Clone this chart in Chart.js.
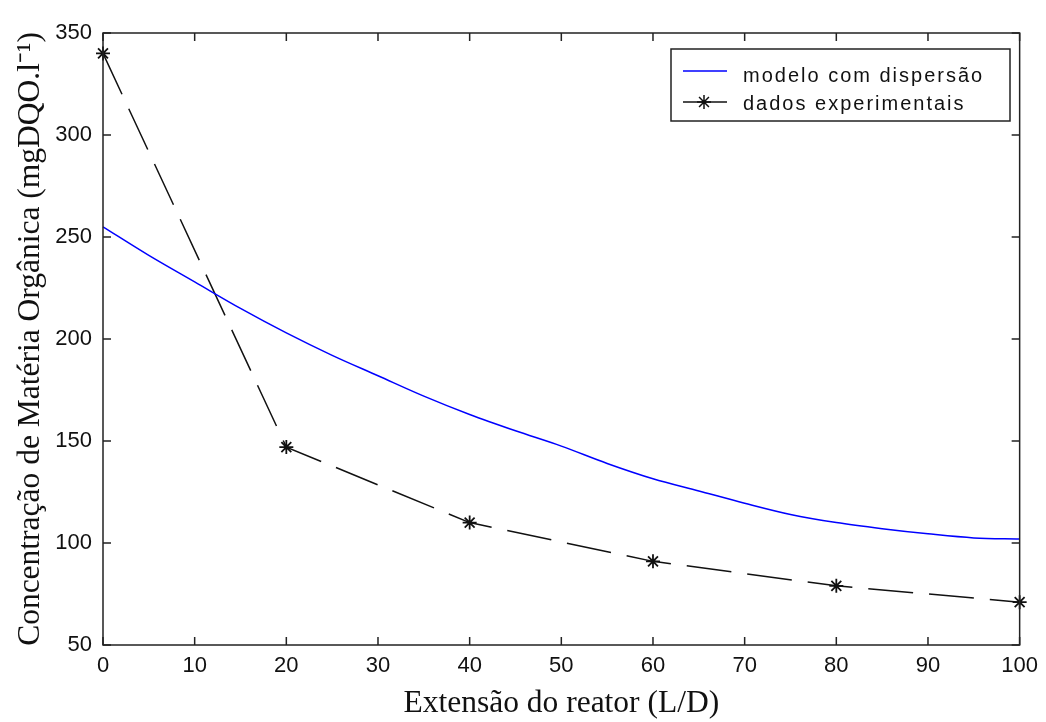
<!DOCTYPE html>
<html>
<head>
<meta charset="utf-8">
<script src="https://cdn.jsdelivr.net/npm/chart.js@4"></script>
<style>
  body { margin: 0; background: #fff; }
  canvas { display: block; }
</style>
</head>
<body>
<canvas id="myChart" width="1046" height="722"></canvas>
<script>
// modelo com dispersao (curva azul)
const xModel = [0, 5, 10, 15, 20, 25, 30, 35, 40, 45, 50, 55, 60, 65, 70, 75, 80, 85, 90, 95, 100];
const yModel = [255, 241, 228, 215, 203, 192, 182, 172, 163, 155, 147.5, 139, 131.5, 125.5, 119.5, 114, 110, 107, 104.5, 102.5, 102];
// dados experimentais
const xExp = [0, 20, 40, 60, 80, 100];
const yExp = [340, 147, 110, 91, 79, 71];

const xTicks = [0, 10, 20, 30, 40, 50, 60, 70, 80, 90, 100];
const yTicks = [50, 100, 150, 200, 250, 300, 350];

const toPoints = (xs, ys) => xs.map((x, i) => ({x: x, y: ys[i]}));

// caixa do grafico com ticks para dentro (estilo matlab)
const boxPlugin = {
    id: 'box',
    afterDatasetsDraw(chart) {
        const c = chart.ctx;
        const a = chart.chartArea;
        const xs = chart.scales.x, ys = chart.scales.y;
        const len = 8;
        c.save();
        c.strokeStyle = '#222';
        c.lineWidth = 1.5;
        c.strokeRect(a.left, a.top, a.right - a.left, a.bottom - a.top);
        c.beginPath();
        xTicks.forEach(v => {
            const px = xs.getPixelForValue(v);
            c.moveTo(px, a.bottom); c.lineTo(px, a.bottom - len);
            c.moveTo(px, a.top); c.lineTo(px, a.top + len);
        });
        yTicks.forEach(v => {
            const py = ys.getPixelForValue(v);
            c.moveTo(a.left, py); c.lineTo(a.left + len, py);
            c.moveTo(a.right, py); c.lineTo(a.right - len, py);
        });
        c.stroke();
        c.restore();
    }
};

// legenda com moldura
const legendPlugin = {
    id: 'boxLegend',
    afterDraw(chart) {
        const c = chart.ctx;
        const x0 = 671, y0 = 49, w = 339, h = 72;
        const lineY = [71, 102];
        const textY = [82, 110];
        c.save();
        c.fillStyle = '#fff';
        c.fillRect(x0, y0, w, h);
        c.strokeStyle = '#222';
        c.lineWidth = 1.5;
        c.strokeRect(x0, y0, w, h);
        chart.data.datasets.forEach((ds, i) => {
            const y = lineY[i];
            c.strokeStyle = ds.borderColor;
            c.lineWidth = 1.5;
            c.setLineDash([]);
            c.beginPath();
            c.moveTo(683, y); c.lineTo(727, y);
            c.stroke();
            if (ds.pointRadius > 0) {
                Chart.helpers.drawPoint(c, {pointStyle: 'star', radius: ds.pointRadius, borderWidth: 1.5}, 704, y);
            }
            c.fillStyle = '#111';
            c.font = '20px "Liberation Sans", Arial, sans-serif';
            c.letterSpacing = '2px';
            c.textBaseline = 'alphabetic';
            c.fillText(ds.label, 743, textY[i]);
        });
        c.restore();
    }
};

const ctx = document.getElementById('myChart').getContext('2d');
var myChart = new Chart(ctx, {
    type: 'scatter',
    data: {
        datasets: [{
            label: 'modelo com dispersão',
            data: toPoints(xModel, yModel),
            showLine: true,
            borderColor: '#0000ff',
            backgroundColor: '#0000ff',
            borderWidth: 1.5,
            pointRadius: 0,
            cubicInterpolationMode: 'monotone',
            clip: false
        }, {
            label: 'dados experimentais',
            data: toPoints(xExp, yExp),
            showLine: true,
            borderColor: '#111',
            backgroundColor: '#111',
            borderWidth: 1.5,
            borderDash: [45, 16],
            pointStyle: 'star',
            pointRadius: 7,
            pointBorderWidth: 1.8,
            clip: false
        }]
    },
    options: {
        responsive: false,
        animation: false,
        layout: {padding: {top: 33, right: 25, left: 0, bottom: 0}},
        plugins: {
            legend: {display: false},
            tooltip: {enabled: false}
        },
        scales: {
            x: {
                type: 'linear',
                min: 0,
                max: 100,
                afterFit: (s) => { s.height = 77; },
                afterBuildTicks: (s) => { s.ticks = xTicks.map(v => ({value: v})); },
                grid: {display: false, drawTicks: false},
                border: {display: false},
                ticks: {
                    color: '#111',
                    padding: 8,
                    maxRotation: 0,
                    font: {family: '"Liberation Sans", Arial, sans-serif', size: 22}
                },
                title: {
                    display: true,
                    text: 'Extensão do reator (L/D)',
                    color: '#111',
                    padding: {top: 0, bottom: -1},
                    font: {family: '"Liberation Serif", "Times New Roman", serif', size: 31.5}
                }
            },
            y: {
                min: 50,
                max: 350,
                afterFit: (s) => { s.width = 103; },
                afterBuildTicks: (s) => { s.ticks = yTicks.map(v => ({value: v})); },
                grid: {display: false, drawTicks: false},
                border: {display: false},
                ticks: {
                    color: '#111',
                    padding: 11,
                    font: {family: '"Liberation Sans", Arial, sans-serif', size: 22}
                },
                title: {
                    display: true,
                    text: 'Concentração de Matéria Orgânica (mgDQO.l⁻¹)',
                    color: '#111',
                    padding: {top: 12, bottom: 0},
                    font: {family: '"Liberation Serif", "Times New Roman", serif', size: 31.5}
                }
            }
        }
    },
    plugins: [boxPlugin, legendPlugin]
});
</script>
</body>
</html>
